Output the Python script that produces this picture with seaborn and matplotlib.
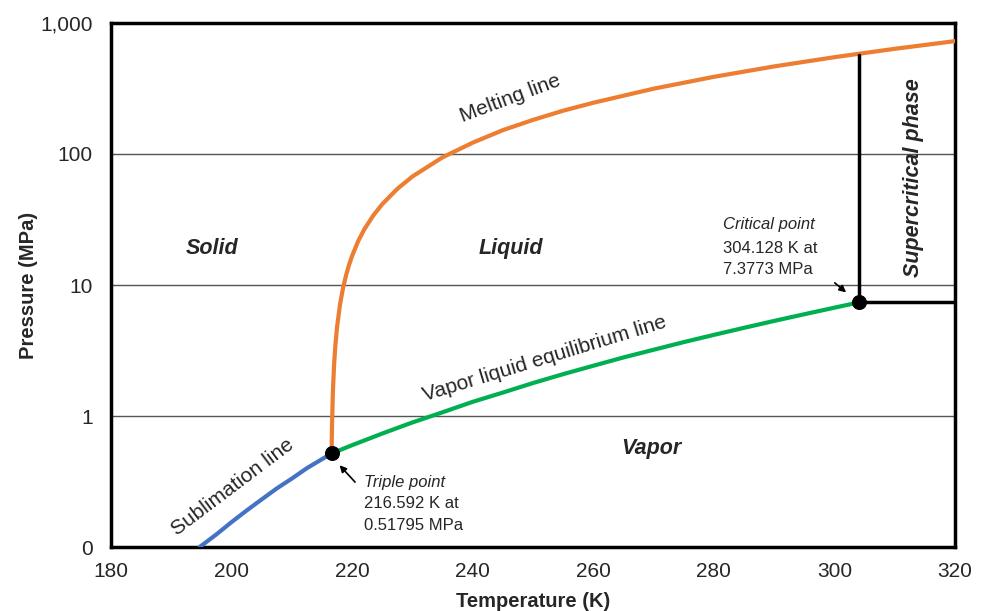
import pandas as pd
import matplotlib.pyplot as plt
import seaborn as sns

# CO2 phase boundaries (T in K, P in MPa)
subl_T = [194.7, 197.5, 200, 202.5, 205, 207.5, 210, 212.5, 216.592]
subl_P = [0.1, 0.125, 0.155, 0.19, 0.231, 0.28, 0.333, 0.40, 0.51795]

vle_T = [216.592, 220, 225, 230, 235, 240, 245, 250, 255, 260, 265, 270, 275,
         280, 285, 290, 295, 300, 304.128]
vle_P = [0.51795, 0.599, 0.735, 0.893, 1.068, 1.283, 1.51, 1.785, 2.087, 2.419, 2.799,
         3.203, 3.664, 4.161, 4.71, 5.318, 5.981, 6.713, 7.3773]

melt_T = [216.592, 216.65, 216.8, 217, 217.2, 217.5, 218, 218.5, 219, 219.5, 220, 221,
          222, 223.5, 225, 227.5, 230, 235, 240, 245, 250, 255, 260, 270, 280, 290,
          300, 310, 320]
melt_P = [0.51795, 0.789, 1.49, 2.43, 3.37, 4.78, 7.15, 9.52, 11.9, 14.3, 16.7, 21.6,
          26.5, 33.9, 41.4, 54.2, 67.3, 94.3, 122, 152, 182, 214, 246, 315, 388, 466,
          548, 635, 727]

triple = (216.592, 0.51795)
critical = (304.128, 7.3773)
crit_melt_P = 570  # melting pressure at the critical temperature

x_ticks = [180, 200, 220, 240, 260, 280, 300, 320]
y_ticks = [0.1, 1, 10, 100, 1000]
y_labels = ["0", "1", "10", "100", "1,000"]

sns.set_style("white")
plt.rcParams['font.family'] = ['Liberation Sans', 'DejaVu Sans']

fig = plt.figure(figsize=(9.83, 6.11), dpi=100)
ax = fig.add_axes([0.1129, 0.1047, 0.8586, 0.8577])

for y in [1, 10, 100]:
    ax.axhline(y, color='#555555', lw=1, zorder=1)

subl = pd.DataFrame({'T': subl_T, 'P': subl_P})
vle = pd.DataFrame({'T': vle_T, 'P': vle_P})
melt = pd.DataFrame({'T': melt_T, 'P': melt_P})
sns.lineplot(data=subl, x='T', y='P', color='#4472C4', lw=3, sort=False, ax=ax, zorder=3)
sns.lineplot(data=vle, x='T', y='P', color='#00B050', lw=3, sort=False, ax=ax, zorder=3)
sns.lineplot(data=melt, x='T', y='P', color='#ED7D31', lw=3, sort=False, ax=ax, zorder=3)

# supercritical box
ax.plot([critical[0], critical[0]], [critical[1], crit_melt_P], color='black', lw=2.5, zorder=4)
ax.plot([critical[0], 320], [critical[1], critical[1]], color='black', lw=2.5, zorder=4)

pts = pd.DataFrame({'T': [triple[0], critical[0]], 'P': [triple[1], critical[1]]})
sns.scatterplot(data=pts, x='T', y='P', color='black', s=100, ax=ax, zorder=5, edgecolor='black')

ax.set_yscale('log')
ax.set_xlim(180, 320)
ax.set_ylim(0.1, 1000)
ax.set_xticks(x_ticks)
ax.set_xticklabels([str(t) for t in x_ticks], fontsize=15)
ax.set_yticks(y_ticks)
ax.set_yticklabels(y_labels, fontsize=15)
ax.minorticks_off()
ax.tick_params(axis='x', length=0, pad=11)
ax.tick_params(axis='y', length=0, pad=13)
ax.set_xlabel("Temperature (K)", fontsize=14.5, fontweight='bold', labelpad=8)
ax.set_ylabel("Pressure (MPa)", fontsize=14.5, fontweight='bold', labelpad=2)
for s in ax.spines.values():
    s.set_linewidth(2.5)
    s.set_color('black')

# region labels
kw = dict(fontsize=15.5, fontweight='bold', style='italic', ha='center', va='center')
ax.text(196.8, 10**1.28, "Solid", **kw)
ax.text(246.3, 10**1.28, "Liquid", **kw)
ax.text(269.6, 10**(-0.245), "Vapor", **kw)
ax.text(313.2, 10**1.82, "Supercritical phase", rotation=90, **kw)

ax.text(246.3, 10**2.42, "Melting line", fontsize=15, rotation=20.5, ha='center', va='center')
ax.text(252.0, 10**0.44, "Vapor liquid equilibrium line", fontsize=15, rotation=17, ha='center', va='center')
ax.text(200.2, 10**(-0.54), "Sublimation line", fontsize=15, rotation=37, ha='center', va='center')

ax.text(222.0, 10**(-0.504), "Triple point", fontsize=12, style='italic', ha='left', va='center')
ax.text(222.0, 10**(-0.664), "216.592 K at", fontsize=12, ha='left', va='center')
ax.text(222.0, 10**(-0.832), "0.51795 MPa", fontsize=12, ha='left', va='center')
ax.text(281.5, 10**1.458, "Critical point", fontsize=12, style='italic', ha='left', va='center')
ax.text(281.5, 10**1.282, "304.128 K at", fontsize=12, ha='left', va='center')
ax.text(281.5, 10**1.115, "7.3773 MPa", fontsize=12, ha='left', va='center')

ax.annotate("", xy=(217.6, 10**(-0.36)), xytext=(220.8, 10**(-0.52)),
            arrowprops=dict(arrowstyle='-|>', color='black', lw=1.2, mutation_scale=10))
ax.annotate("", xy=(302.3, 10**0.93), xytext=(299.7, 10**1.03),
            arrowprops=dict(arrowstyle='-|>', color='black', lw=1.2, mutation_scale=10))

fig.savefig("out.png", dpi=100)
